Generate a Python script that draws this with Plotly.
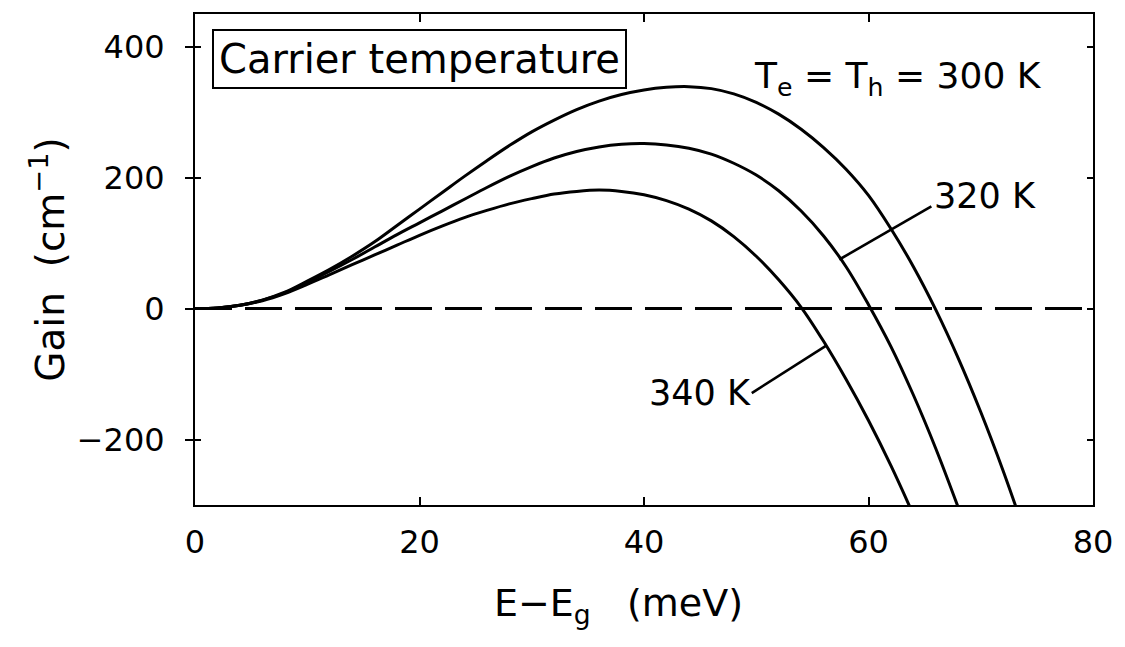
import plotly.graph_objects as go

# Photon energy above the band gap (meV)
energy = [0, 2, 4, 6, 8, 10, 12, 14, 16, 18, 20, 22, 24, 26, 28, 30, 32, 34, 36, 38,
          40, 42, 44, 46, 48, 50, 52, 54, 56, 58, 60, 62, 64, 66, 68, 70, 72, 74]

# Optical gain (cm^-1) for three carrier temperatures
gain_300 = [0, 1, 5, 13, 25, 42, 60, 80, 102, 127, 152, 177, 202, 226, 249, 270, 288, 304,
            317, 327, 334, 338, 339, 336, 328, 315, 297, 274, 246, 213, 173, 122, 64, -2,
            -76, -158, -248, -346]
energy_320 = energy[:35]
gain_320 = [0, 1, 5, 13, 24, 40, 57, 75, 94, 113, 131, 149, 167, 185, 202, 217, 230, 240,
            247, 251, 252, 250, 245, 236, 222, 204, 180, 149, 111, 64, 6, -58, -132, -214,
            -304]
energy_340 = energy[:33]
gain_340 = [0, 1, 5, 12, 23, 37, 52, 67, 82, 97, 112, 126, 139, 150, 160, 168, 175, 179,
            181, 179, 174, 165, 152, 134, 110, 80, 44, 2, -50, -108, -171, -240, -315]

zero_x = [0, 80]
zero_y = [0, 0]

x_ticks = [0, 20, 40, 60, 80]
y_ticks = [-200, 0, 200, 400]

FONT = "DejaVu Sans"
curve = dict(color="black", width=3, shape="spline", smoothing=1.0)

fig = go.Figure()
for xs, ys, name in [(energy, gain_300, "300 K"), (energy_320, gain_320, "320 K"),
                     (energy_340, gain_340, "340 K")]:
    fig.add_trace(go.Scatter(x=xs, y=ys, mode="lines", line=curve, name=name,
                             showlegend=False, hoverinfo="skip"))

fig.add_trace(go.Scatter(x=zero_x, y=zero_y, mode="lines", yaxis="y2",
                         line=dict(color="black", width=3, dash="37px,13px"),
                         showlegend=False, hoverinfo="skip"))

axis_common = dict(showgrid=False, zeroline=False, linecolor="black", linewidth=2,
                   tickcolor="black", tickwidth=2,
                   tickfont=dict(family=FONT, size=32, color="black"))

fig.update_layout(
    width=1125, height=647,
    margin=dict(l=195, r=27, t=12, b=142),
    paper_bgcolor="white", plot_bgcolor="white",
    xaxis=dict(range=[0, 80], tickvals=x_ticks, ticks="inside", ticklen=8,
               mirror="ticks", ticklabelstandoff=8, **axis_common),
    yaxis=dict(range=[-300, 450], tickvals=y_ticks, ticks="outside", ticklen=8,
               mirror=True, ticklabelstandoff=14,
               title=dict(text="Gain  (cm<sup>\u22121</sup>)", standoff=0,
                          font=dict(family=FONT, size=39, color="black")),
               **axis_common),
    # overlay axis giving the inward half of the crossing ticks
    yaxis2=dict(range=[-300, 450], overlaying="y", side="left", tickvals=y_ticks,
                ticks="inside", ticklen=6, mirror="ticks", showticklabels=False,
                showgrid=False, zeroline=False, showline=False,
                tickcolor="black", tickwidth=2),
)

# Horizontal axis title
fig.add_annotation(x=0.472, y=-0.205, xref="paper", yref="paper",
                   text="E\u2212E<sub>g</sub>   (meV)", showarrow=False,
                   yanchor="middle", font=dict(family=FONT, size=38, color="black"))

label_font = dict(family=FONT, size=35, color="black")
fig.add_annotation(x=20.0, y=382, xref="x", yref="y", text="Carrier temperature",
                   showarrow=False, font=dict(family=FONT, size=40, color="black"),
                   bordercolor="black", borderwidth=2, borderpad=5, bgcolor="white")
fig.add_annotation(x=49.6, y=352, xref="x", yref="y", xanchor="left",
                   text="T<sub>e</sub> = T<sub>h</sub> = 300 K", showarrow=False,
                   font=dict(family=FONT, size=36, color="black"))
fig.add_annotation(x=65.7, y=172, xref="x", yref="y", xanchor="left", text="320 K",
                   showarrow=False, font=label_font)
fig.add_annotation(x=40.3, y=-129, xref="x", yref="y", xanchor="left", text="340 K",
                   showarrow=False, font=label_font)

# Leader lines from the temperature labels to their curves
leader = dict(color="black", width=2.6)
fig.add_shape(type="line", xref="x", yref="y", x0=65.6, y0=156, x1=57.4, y1=75, line=leader)
fig.add_shape(type="line", xref="x", yref="y", x0=49.6, y0=-129, x1=56.2, y1=-57, line=leader)

fig.write_html("out.html")
